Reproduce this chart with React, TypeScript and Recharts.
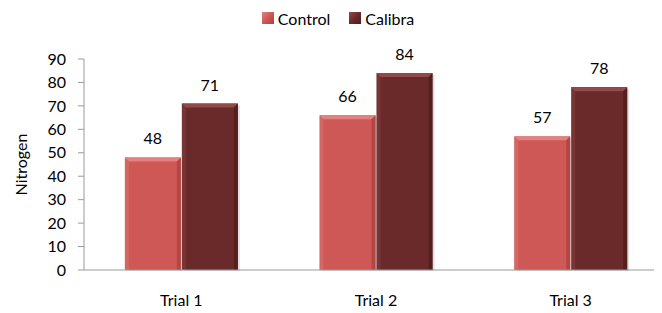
import React from 'react';
import { BarChart, Bar, XAxis, YAxis, Legend, LabelList } from 'recharts';

const categories = ['Trial 1', 'Trial 2', 'Trial 3'];
const controlValues = [48, 66, 57];
const calibraValues = [71, 84, 78];
const yTicks = [0, 10, 20, 30, 40, 50, 60, 70, 80, 90];
const boundaryTicks = [0, 1, 2, 3];

const data = categories.map((name, i) => ({
  name,
  Control: controlValues[i],
  Calibra: calibraValues[i],
}));

const FONT = 'Lato, "Open Sans", sans-serif';
const AXIS = '#9a9a9a';

const palette: Record<string, { main: string; light: string; dark: string }> = {
  Control: { main: '#cd5855', light: '#e2827f', dark: '#a9403e' },
  Calibra: { main: '#6b2a2a', light: '#8f4a49', dark: '#4e1a1a' },
};

const makeShape = (key: string) => (props: any) => {
  const { x, y, width, height } = props;
  if (!height || height <= 0) return null;
  const c = palette[key];
  const b = Math.min(4, height / 2);
  return (
    <g>
      <rect x={x + 2} y={y + 2} width={width} height={height - 1} fill="#000" opacity={0.12} />
      <rect x={x} y={y} width={width} height={height} fill={c.main} />
      <polygon points={`${x},${y} ${x + width},${y} ${x + width - b},${y + b} ${x + b},${y + b}`} fill={c.light} />
      <polygon points={`${x + width},${y} ${x + width},${y + height} ${x + width - b},${y + height} ${x + width - b},${y + b}`} fill={c.dark} opacity={0.7} />
      <polygon points={`${x},${y} ${x + b},${y + b} ${x + b},${y + height} ${x},${y + height}`} fill={c.light} opacity={0.35} />
    </g>
  );
};

const Swatch = ({ k }: { k: string }) => {
  const c = palette[k];
  return (
    <span
      style={{
        display: 'inline-block',
        width: 12,
        height: 12,
        background: `linear-gradient(135deg, ${c.light}, ${c.main} 50%, ${c.dark})`,
        marginRight: 4,
      }}
    />
  );
};

const renderLegend = () => (
  <div
    style={{
      display: 'flex',
      justifyContent: 'center',
      alignItems: 'center',
      height: 20,
      fontFamily: FONT,
      fontSize: 16,
      color: '#000',
    }}
  >
    {['Control', 'Calibra'].map((k, i) => (
      <span key={k} style={{ display: 'flex', alignItems: 'center', marginLeft: i ? 19 : 0 }}>
        <Swatch k={k} />
        {k}
      </span>
    ))}
  </div>
);

const YLabel = (props: any) => {
  const vb = props.viewBox || {};
  const cy = vb.y + vb.height / 2;
  const cx = 12;
  return (
    <text
      x={cx}
      y={cy}
      transform={`rotate(-90, ${cx}, ${cy})`}
      textAnchor="middle"
      dominantBaseline="central"
      fontFamily={FONT}
      fontSize={16}
      fill="#000"
    >
      Nitrogen
    </text>
  );
};

export default function App() {
  return (
    <div style={{ width: 654, height: 305, overflow: 'hidden' }}>
      <BarChart
        width={660}
        height={305}
        data={data}
        margin={{ top: 31, right: 0, left: 0, bottom: 0 }}
        barCategoryGap="21%"
        barGap={1}
      >
        <Legend verticalAlign="top" height={20} content={renderLegend} wrapperStyle={{ top: 0 }} />
        <XAxis
          xAxisId="a"
          type="number"
          domain={[0, 3]}
          ticks={boundaryTicks}
          tick={false}
          tickSize={6}
          axisLine={{ stroke: AXIS }}
          tickLine={{ stroke: AXIS }}
          height={1}
          allowDataOverflow
        />
        <XAxis
          xAxisId="cat"
          dataKey="name"
          axisLine={false}
          tickLine={false}
          tickSize={0}
          tickMargin={24}
          height={42}
          tick={{ fill: '#000', fontFamily: FONT, fontSize: 16 }}
        />
        <YAxis
          width={76}
          domain={[0, 90]}
          ticks={yTicks}
          interval={0}
          axisLine={{ stroke: AXIS }}
          tickLine={{ stroke: AXIS }}
          tickSize={6}
          tickMargin={12}
          tick={{ fill: '#000', fontFamily: FONT, fontSize: 16 }}
          label={<YLabel />}
        />
        <Bar xAxisId="cat" dataKey="Control" fill={palette.Control.main} shape={makeShape('Control')} isAnimationActive={false}>
          <LabelList dataKey="Control" position="top" offset={13} fill="#000" fontFamily={FONT} fontSize={16} />
        </Bar>
        <Bar xAxisId="cat" dataKey="Calibra" fill={palette.Calibra.main} shape={makeShape('Calibra')} isAnimationActive={false}>
          <LabelList dataKey="Calibra" position="top" offset={13} fill="#000" fontFamily={FONT} fontSize={16} />
        </Bar>
      </BarChart>
    </div>
  );
}
